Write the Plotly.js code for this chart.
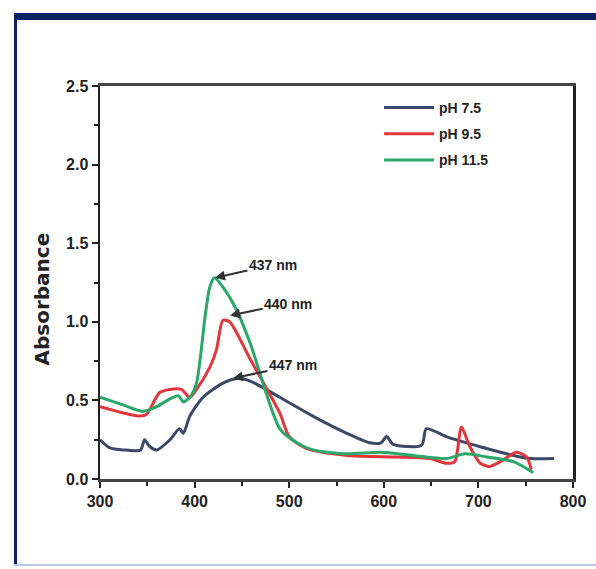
<!DOCTYPE html>
<html>
<head>
<meta charset="utf-8">
<script src="https://cdn.plot.ly/plotly-3.0.1.min.js"></script>
<style>
  html, body { margin: 0; padding: 0; background: #ffffff; }
  #chart { width: 596px; height: 569px; }
</style>
</head>
<body>
<div id="chart"></div>
<script>
// Wavelength (nm) and absorbance values
const seriesNames = ["pH 7.5", "pH 9.5", "pH 11.5"];

const wlPH75 = [300, 310, 325, 343, 347, 352, 360, 374, 384, 388, 395, 409, 430, 445, 460, 490, 525, 561, 585, 597, 603, 610, 640, 645, 666, 702, 737, 755, 780];
const absPH75 = [0.25, 0.20, 0.185, 0.185, 0.25, 0.21, 0.185, 0.25, 0.32, 0.29, 0.40, 0.52, 0.61, 0.64, 0.62, 0.52, 0.40, 0.29, 0.23, 0.23, 0.27, 0.22, 0.215, 0.32, 0.27, 0.205, 0.15, 0.13, 0.13];

const wlPH95 = [300, 325, 342, 349, 363, 374, 386, 395, 402, 416, 423, 430, 437, 459, 490, 500, 518, 561, 614, 649, 666, 675, 682, 691, 702, 712, 726, 740, 751, 756];
const absPH95 = [0.46, 0.42, 0.40, 0.41, 0.55, 0.57, 0.57, 0.52, 0.57, 0.71, 0.82, 1.01, 1.00, 0.76, 0.42, 0.27, 0.195, 0.15, 0.14, 0.13, 0.10, 0.11, 0.33, 0.205, 0.10, 0.08, 0.12, 0.17, 0.14, 0.06];

const wlPH115 = [300, 325, 345, 360, 374, 383, 388, 395, 402, 411, 416, 421, 430, 444, 459, 490, 508, 525, 561, 596, 631, 666, 686, 709, 737, 758];
const absPH115 = [0.52, 0.47, 0.43, 0.46, 0.51, 0.53, 0.49, 0.52, 0.61, 1.03, 1.22, 1.28, 1.22, 1.08, 0.86, 0.32, 0.23, 0.185, 0.16, 0.17, 0.15, 0.13, 0.16, 0.14, 0.11, 0.04];

// Peak labels
const peakLabels = ["437 nm", "440 nm", "447 nm"];
const peakX = [421.5, 437.5, 440.5];
const peakY = [1.28, 1.04, 0.64];

const xTickVals = [300, 400, 500, 600, 700, 800];
const yTickVals = [0.0, 0.5, 1.0, 1.5, 2.0, 2.5];

const colors = ["#3b4868", "#e2363b", "#2aa86a"];

const traces = [
  {x: wlPH75, y: absPH75, name: seriesNames[0], legendgroup: "a"},
  {x: wlPH95, y: absPH95, name: seriesNames[1], legendgroup: "b"},
  {x: wlPH115, y: absPH115, name: seriesNames[2], legendgroup: "c"}
].map((t, i) => Object.assign(t, {
  type: "scatter",
  mode: "lines",
  line: {color: colors[i], width: 3, shape: "spline", smoothing: 0.7}
}));

const tickFont = {family: "Liberation Sans, Arial, sans-serif", size: 16, color: "#222", weight: "bold"};

const frameColor = "#0b2262";
const shapes = [
  {type: "rect", xref: "paper", yref: "paper", x0: -0.1818, x1: 1.05, y0: 1.168, y1: 1.1858, fillcolor: frameColor, line: {width: 0}, layer: "above"},
  {type: "rect", xref: "paper", yref: "paper", x0: -0.1818, x1: -0.1755, y0: -0.2188, y1: 1.1858, fillcolor: frameColor, line: {width: 0}, layer: "above"},
  {type: "rect", xref: "paper", yref: "paper", x0: -0.1818, x1: 1.05, y0: -0.2214, y1: -0.2163, fillcolor: "#bcc6ee", line: {width: 0}, layer: "above"}
];

const axes = [[58, -13], [58, -12], [60, -13]];
const annotations = peakLabels.map((txt, i) => ({
  x: peakX[i], y: peakY[i], xref: "x", yref: "y",
  text: txt, showarrow: true,
  ax: axes[i][0], ay: axes[i][1],
  arrowhead: 2, arrowsize: 1, arrowwidth: 2, arrowcolor: "#333",
  font: {family: "Liberation Sans, Arial, sans-serif", size: 14, color: "#222", weight: "bold"}
}));
annotations.push({
  xref: "paper", yref: "paper",
  x: (27 - 100) / 473, y: (479 - 368) / 393,
  text: "Absorbance", showarrow: false, textangle: -90,
  font: {family: "DejaVu Sans, sans-serif", size: 20, color: "#222", weight: "bold"}
});

const layout = {
  width: 596, height: 569,
  margin: {l: 100, r: 23, t: 86, b: 90},
  paper_bgcolor: "#ffffff",
  plot_bgcolor: "#ffffff",
  showlegend: true,
  legend: {
    x: 0.59, y: 0.985, xanchor: "left", yanchor: "top", itemwidth: 50,
    bgcolor: "rgba(0,0,0,0)", traceorder: "grouped", tracegroupgap: 5,
    font: {family: "Liberation Sans, Arial, sans-serif", size: 14, color: "#222", weight: "bold"}
  },
  xaxis: {
    range: [300, 800], tickvals: xTickVals, ticks: "outside", ticklen: 6, tickwidth: 2, tickcolor: "#222",
    showline: true, linecolor: "#444", linewidth: 3, mirror: true, showgrid: false, zeroline: false,
    tickfont: tickFont,
    minor: {dtick: 50, ticks: "outside", ticklen: 4, tickwidth: 2, tickcolor: "#222", showgrid: false}
  },
  yaxis: {
    range: [0, 2.5], tickvals: yTickVals, tickformat: ".1f", ticks: "outside", ticklen: 6, tickwidth: 2, tickcolor: "#222",
    showline: true, linecolor: "#222", linewidth: 2.5, mirror: true, showgrid: false, zeroline: false,
    tickfont: tickFont,
    minor: {dtick: 0.25, ticks: "outside", ticklen: 4, tickwidth: 2, tickcolor: "#222", showgrid: false}
  },
  shapes: shapes,
  annotations: annotations
};

Plotly.newPlot("chart", traces, layout, {displayModeBar: false, staticPlot: true});
</script>
</body>
</html>
